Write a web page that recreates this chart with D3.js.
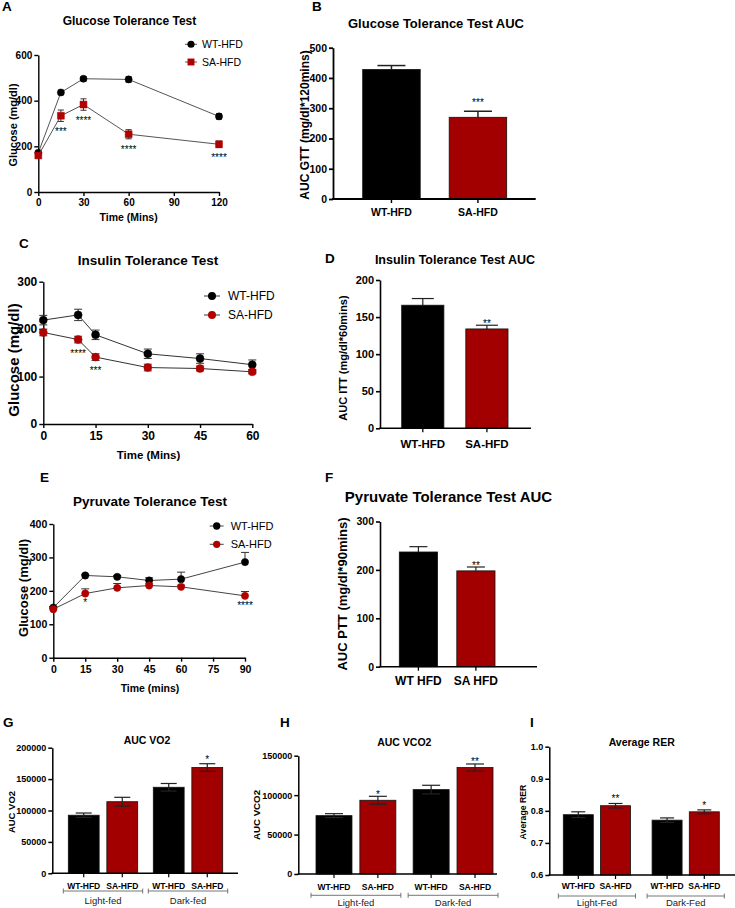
<!DOCTYPE html>
<html><head><meta charset="utf-8">
<script src="https://cdn.jsdelivr.net/npm/d3@7"></script>
<style>body{margin:0;background:#fff} svg{display:block}</style>
</head><body><svg id="fig" width="735" height="908"></svg>
<script>
// ---------------- DATA ----------------
// A: Glucose tolerance test
const gttTime = [0, 15, 30, 60, 120];
const gttWT = [172, 436, 496, 493, 331];
const gttWTErr = [8, 10, 10, 12, 12];
const gttSA = [160, 334, 383, 253, 209];
const gttSAErr = [10, 25, 25, 20, 14];
const gttStars = ["", "***", "****", "****", "****"];
const gttXTicks = [0, 30, 60, 90, 120];
const gttYTicks = [0, 200, 400, 600];
// B: GTT AUC
const gttAucCats = ["WT-HFD", "SA-HFD"];
const gttAuc = [428, 270];
const gttAucErr = [13, 20];
const gttAucStars = ["", "***"];
const gttAucTicks = [0, 100, 200, 300, 400, 500];
// C: Insulin tolerance test
const ittTime = [0, 10, 15, 30, 45, 60];
const ittWT = [219, 230, 188, 148, 138, 125];
const ittWTErr = [10, 12, 10, 10, 10, 10];
const ittSA = [193, 178, 141, 119, 117, 110];
const ittSAErr = [7, 7, 7, 7, 5, 4];
const ittStars = ["", "****", "***", "", "", ""];
const ittXTicks = [0, 15, 30, 45, 60];
const ittYTicks = [0, 100, 200, 300];
// D: ITT AUC
const ittAucCats = ["WT-HFD", "SA-HFD"];
const ittAuc = [166, 134];
const ittAucErr = [9, 5];
const ittAucStars = ["", "**"];
const ittAucTicks = [0, 50, 100, 150, 200];
// E: Pyruvate tolerance test
const pttTime = [0, 15, 30, 45, 60, 90];
const pttWT = [150, 246, 242, 231, 235, 286];
const pttWTErr = [3, 3, 4, 8, 21, 29];
const pttSA = [145, 192, 209, 216, 212, 185];
const pttSAErr = [3, 14, 13, 5, 5, 13];
const pttStars = ["", "*", "", "", "", "****"];
const pttXTicks = [0, 15, 30, 45, 60, 75, 90];
const pttYTicks = [0, 100, 200, 300, 400];
// F: PTT AUC
const pttAucCats = ["WT HFD", "SA HFD"];
const pttAuc = [237, 198];
const pttAucErr = [11, 8];
const pttAucStars = ["", "**"];
const pttAucTicks = [0, 100, 200, 300];
// G-I: metabolic cages
const genotypes = ["WT-HFD", "SA-HFD"];
const feedGroups = ["Light-fed", "Dark-fed"];
const rerGroups = ["Light-Fed", "Dark-Fed"];
const vo2 = [92500, 114000, 137000, 168500];
const vo2Err = [3500, 7000, 6000, 6000];
const vo2Stars = ["", "", "", "*"];
const vo2Ticks = [0, 50000, 100000, 150000, 200000];
const vco2 = [74000, 93500, 107000, 135000];
const vco2Err = [2500, 5000, 5500, 4500];
const vco2Stars = ["", "*", "", "**"];
const vco2Ticks = [0, 50000, 100000, 150000];
const rer = [0.788, 0.816, 0.771, 0.797];
const rerErr = [0.009, 0.007, 0.007, 0.006];
const rerStars = ["", "**", "", "*"];
const rerTicks = [0.6, 0.7, 0.8, 0.9, 1.0];

// ---------------- DRAWING ----------------
const FONT = '"Liberation Sans", Arial, Helvetica, sans-serif';
const RED = "#a20000";
const svg = d3.select("#fig").attr("font-family", FONT);

function styleAxis(sel, fs, sw) {
  sel.attr("font-family", FONT);
  sel.selectAll("path, line").attr("stroke", "#000").attr("stroke-width", sw);
  sel.selectAll("text").attr("font-size", fs).attr("font-weight", "bold").attr("fill", "#000").attr("font-family", FONT);
}
function txt(x, y, s, o = {}) {
  const t = svg.append("text").attr("x", x).attr("y", y).text(s)
    .attr("font-size", o.fs || 10).attr("font-weight", o.bold === false ? "normal" : "bold")
    .attr("text-anchor", o.anchor || "middle").attr("fill", o.fill || "#000");
  if (o.rotate) t.attr("transform", `rotate(-90,${x},${y})`).attr("dominant-baseline", "central");
  return t;
}
function star(x, visualCenter, s, fs) {
  if (!s) return;
  txt(x, visualCenter + fs * 0.58, s, { fs: fs, bold: false, fill: "#000" });
}

function linePanel(c) {
  const x = d3.scaleLinear().domain(c.xDomain).range(c.xRange);
  const y = d3.scaleLinear().domain(c.yDomain).range(c.yRange);
  const g = svg.append("g");
  g.append("g").attr("transform", `translate(0,${c.yRange[0]})`)
    .call(d3.axisBottom(x).tickValues(c.xTicks).tickSize(4).tickSizeOuter(0).tickPadding(c.xPad))
    .call(styleAxis, c.tickFs, 1.4);
  g.append("g").attr("transform", `translate(${c.xRange[0]},0)`)
    .call(d3.axisLeft(y).tickValues(c.yTicks).tickSize(4).tickSizeOuter(0).tickPadding(c.yPad))
    .call(styleAxis, c.tickFs, 1.4);
  c.series.forEach(s => {
    const pts = c.time.map((t, i) => ({ t, v: s.values[i], e: s.err[i] }));
    const eg = g.append("g").attr("stroke", "#333").attr("stroke-width", 1);
    eg.selectAll(".v").data(pts).join("line")
      .attr("x1", d => x(d.t)).attr("x2", d => x(d.t))
      .attr("y1", d => y(d.v + d.e)).attr("y2", d => c.topOnly ? y(d.v) : y(d.v - d.e));
    eg.selectAll(".t").data(pts).join("line")
      .attr("x1", d => x(d.t) - c.cap).attr("x2", d => x(d.t) + c.cap)
      .attr("y1", d => y(d.v + d.e)).attr("y2", d => y(d.v + d.e));
    if (!c.topOnly) eg.selectAll(".b").data(pts).join("line")
      .attr("x1", d => x(d.t) - c.cap).attr("x2", d => x(d.t) + c.cap)
      .attr("y1", d => y(d.v - d.e)).attr("y2", d => y(d.v - d.e));
    g.append("path").datum(pts)
      .attr("d", d3.line().x(d => x(d.t)).y(d => y(d.v)))
      .attr("fill", "none").attr("stroke", c.lineColor).attr("stroke-width", 1);
    const sym = d3.symbol().type(s.shape === "square" ? d3.symbolSquare : d3.symbolCircle).size(s.size);
    g.selectAll(null).data(pts).join("path")
      .attr("transform", d => `translate(${x(d.t)},${y(d.v)})`)
      .attr("d", sym).attr("fill", s.color).attr("stroke", s.color).attr("stroke-width", 0.5);
    if (s.stars) pts.forEach((d, i) => {
      const base = c.starFromErr ? y(d.v - d.e) : y(d.v);
      star(x(d.t), base + c.starGap, s.stars[i], c.starFs);
    });
  });
  // legend
  c.series.forEach((s, i) => {
    const ly = c.legend.y[i];
    g.append("line").attr("x1", c.legend.x - c.legend.half).attr("x2", c.legend.x + c.legend.half)
      .attr("y1", ly).attr("y2", ly).attr("stroke", c.lineColor).attr("stroke-width", 1);
    const sym = d3.symbol().type(s.shape === "square" ? d3.symbolSquare : d3.symbolCircle).size(s.size);
    g.append("path").attr("transform", `translate(${c.legend.x},${ly})`).attr("d", sym).attr("fill", s.color);
    txt(c.legend.textX, ly + c.legend.fs * 0.36, s.name, { fs: c.legend.fs, bold: false, anchor: "start" });
  });
}

function barPanel(c) {
  const y = d3.scaleLinear().domain(c.yDomain).range(c.yRange);
  let bars;
  if (c.groups) {
    const outer = d3.scaleBand().domain(c.groups).range(c.barRange).paddingInner(c.pad).paddingOuter(0);
    const inner = d3.scaleBand().domain(c.cats).range([0, outer.bandwidth()]).paddingInner(c.innerPad).paddingOuter(0);
    bars = [];
    c.groups.forEach((gname, gi) => c.cats.forEach((k, j) => {
      const idx = gi * c.cats.length + j;
      bars.push({ x0: outer(gname) + inner(k), w: inner.bandwidth(), v: c.values[idx], e: c.err[idx],
        s: c.stars[idx], label: k, color: j === 0 ? "#000" : RED });
    }));
    c.groups.forEach(gname => {
      const x0 = outer(gname) - 5, x1 = outer(gname) + outer.bandwidth() + 5, by = c.bracketY;
      const bg = svg.append("g").attr("stroke", "#666").attr("stroke-width", 0.9);
      bg.append("line").attr("x1", x0).attr("x2", x1).attr("y1", by).attr("y2", by);
      bg.append("line").attr("x1", x0).attr("x2", x0).attr("y1", by - 2.5).attr("y2", by + 2.5);
      bg.append("line").attr("x1", x1).attr("x2", x1).attr("y1", by - 2.5).attr("y2", by + 2.5);
      txt((x0 + x1) / 2, c.groupLabelY, gname, { fs: c.groupFs, bold: false, fill: "#222" });
    });
  } else {
    const x = d3.scaleBand().domain(c.cats).range(c.barRange).paddingInner(c.pad).paddingOuter(0);
    bars = c.cats.map((k, i) => ({ x0: x(k), w: x.bandwidth(), v: c.values[i], e: c.err[i], s: c.stars[i],
      label: k, color: i === 0 ? "#000" : RED }));
  }
  const g = svg.append("g");
  const y0 = y(c.yDomain[0]);
  bars.forEach(b => {
    const cx = b.x0 + b.w / 2, top = y(b.v + b.e), bot = y(b.v);
    const eg = g.append("g").attr("stroke", "#222").attr("stroke-width", c.errW);
    eg.append("line").attr("x1", cx).attr("x2", cx).attr("y1", top).attr("y2", bot);
    eg.append("line").attr("x1", cx - c.cap).attr("x2", cx + c.cap).attr("y1", top).attr("y2", top);
  });
  g.selectAll("rect").data(bars).join("rect")
    .attr("x", d => d.x0).attr("width", d => d.w)
    .attr("y", d => y(d.v)).attr("height", d => y0 - y(d.v))
    .attr("fill", d => d.color).attr("stroke", "#111").attr("stroke-width", 0.8);
  if (c.errBoth) bars.forEach(b => {
    const cx = b.x0 + b.w / 2, bot = y(b.v - b.e), top = y(b.v);
    const eg = g.append("g").attr("stroke", "#222").attr("stroke-width", c.errW);
    eg.append("line").attr("x1", cx).attr("x2", cx).attr("y1", top).attr("y2", bot);
    eg.append("line").attr("x1", cx - c.cap).attr("x2", cx + c.cap).attr("y1", bot).attr("y2", bot);
  });
  g.append("g").attr("transform", `translate(${c.axisX0},0)`)
    .call(d3.axisLeft(y).tickValues(c.yTicks).tickSize(4).tickSizeOuter(0).tickPadding(2)
      .tickFormat(c.fmt ? d3.format(c.fmt) : null))
    .call(styleAxis, c.tickFs, c.axisW);
  g.append("line").attr("x1", c.axisX0 - c.axisW / 2).attr("x2", c.axisX1).attr("y1", y0).attr("y2", y0)
    .attr("stroke", "#000").attr("stroke-width", c.axisW);
  g.selectAll(".xt").data(bars).join("line")
    .attr("x1", d => d.x0 + d.w / 2).attr("x2", d => d.x0 + d.w / 2)
    .attr("y1", y0).attr("y2", y0 + 4).attr("stroke", "#000").attr("stroke-width", c.axisW * 0.8);
  bars.forEach(b => txt(b.x0 + b.w / 2, c.labelY, b.label, { fs: c.labelFs }));
  bars.forEach(b => star(b.x0 + b.w / 2, y(b.v + b.e) - c.starGap, b.s, c.starFs));
}

// ---------- Panel letters ----------
[["A", 2, 11], ["B", 312, 11], ["C", 19, 248], ["D", 325, 263], ["E", 40, 482], ["F", 325, 482],
 ["G", 3, 727], ["H", 280, 727], ["I", 530, 727]].forEach(d => txt(d[1], d[2], d[0], { fs: 13.5, anchor: "start" }));

// ---------- A ----------
txt(129.5, 25, "Glucose Tolerance Test", { fs: 12 });
linePanel({
  xDomain: [0, 120], xRange: [38.3, 219], yDomain: [0, 600], yRange: [192, 55],
  xTicks: gttXTicks, yTicks: gttYTicks, tickFs: 10, xPad: 3, yPad: 2, time: gttTime,
  lineColor: "#555", cap: 3, topOnly: false, starFromErr: true, starGap: 8, starFs: 10,
  series: [
    { name: "WT-HFD", values: gttWT, err: gttWTErr, color: "#000", shape: "circle", size: 40 },
    { name: "SA-HFD", values: gttSA, err: gttSAErr, color: "#b00000", shape: "square", size: 48, stars: gttStars }
  ],
  legend: { x: 191, half: 6, y: [44.3, 62], textX: 202, fs: 10.5 }
});
txt(128.6, 221, "Time (Mins)", { fs: 10.5 });
txt(13, 125, "Glucose (mg/dl)", { fs: 11, rotate: true });

// ---------- B ----------
txt(436, 28, "Glucose Tolerance Test  AUC", { fs: 13 });
barPanel({
  cats: gttAucCats, values: gttAuc, err: gttAucErr, stars: gttAucStars,
  yDomain: [0, 500], yRange: [199, 47.7], yTicks: gttAucTicks, barRange: [362.7, 506.7], pad: 0.335,
  axisX0: 333, axisX1: 535.7, axisW: 1.8, tickFs: 10.5, labelFs: 10.5, labelY: 216,
  cap: 14, errW: 1.5, errBoth: false, starGap: 11, starFs: 10
});
txt(305, 125, "AUC GTT (mg/dl*120mins)", { fs: 12, rotate: true });

// ---------- C ----------
txt(148, 265, "Insulin Tolerance Test", { fs: 13.5 });
linePanel({
  xDomain: [0, 60], xRange: [43.3, 252.3], yDomain: [0, 300], yRange: [424, 281.7],
  xTicks: ittXTicks, yTicks: ittYTicks, tickFs: 12, xPad: 3, yPad: 2, time: ittTime,
  lineColor: "#333", cap: 4, topOnly: false, starFromErr: true, starGap: 8, starFs: 10,
  series: [
    { name: "WT-HFD", values: ittWT, err: ittWTErr, color: "#000", shape: "circle", size: 50 },
    { name: "SA-HFD", values: ittSA, err: ittSAErr, color: "#b00000", shape: "circle", size: 50, stars: ittStars }
  ],
  legend: { x: 212, half: 8, y: [296, 315], textX: 228, fs: 12 }
});
txt(148.5, 459, "Time (Mins)", { fs: 11.5 });
txt(13, 360, "Glucose (mg/dl)", { fs: 15, rotate: true });

// ---------- D ----------
txt(455, 264, "Insulin Tolerance Test AUC", { fs: 12.5 });
barPanel({
  cats: ittAucCats, values: ittAuc, err: ittAucErr, stars: ittAucStars,
  yDomain: [0, 200], yRange: [428.3, 280], yTicks: ittAucTicks, barRange: [401.7, 508], pad: 0.342,
  axisX0: 380, axisX1: 531, axisW: 1.6, tickFs: 11, labelFs: 11.5, labelY: 448,
  cap: 11, errW: 1.2, errBoth: false, starGap: 4, starFs: 10
});
txt(343, 358, "AUC ITT (mg/dl*60mins)", { fs: 11, rotate: true });

// ---------- E ----------
txt(150, 506, "Pyruvate Tolerance Test", { fs: 13.5 });
linePanel({
  xDomain: [0, 90], xRange: [53.3, 245], yDomain: [0, 400], yRange: [657.7, 524],
  xTicks: pttXTicks, yTicks: pttYTicks, tickFs: 10.5, xPad: 4, yPad: 2, time: pttTime,
  lineColor: "#444", cap: 4, topOnly: true, starFromErr: false, starGap: 7, starFs: 10,
  series: [
    { name: "WT-HFD", values: pttWT, err: pttWTErr, color: "#000", shape: "circle", size: 42 },
    { name: "SA-HFD", values: pttSA, err: pttSAErr, color: "#b00000", shape: "circle", size: 42, stars: pttStars }
  ],
  legend: { x: 216.7, half: 7, y: [526, 544.3], textX: 230.7, fs: 11 }
});
txt(150, 692, "Time (mins)", { fs: 10.5 });
txt(23, 588, "Glucose (mg/dl)", { fs: 13, rotate: true });

// ---------- F ----------
txt(448.5, 502, "Pyruvate Tolerance Test AUC", { fs: 15 });
barPanel({
  cats: pttAucCats, values: pttAuc, err: pttAucErr, stars: pttAucStars,
  yDomain: [0, 300], yRange: [666.7, 521.5], yTicks: pttAucTicks, barRange: [399.3, 495], pad: 0.336,
  axisX0: 380, axisX1: 537, axisW: 1.6, tickFs: 10.5, labelFs: 12, labelY: 684.5,
  cap: 9, errW: 1.2, errBoth: false, starGap: 4, starFs: 10
});
txt(342, 594, "AUC PTT (mg/dl*90mins)", { fs: 13, rotate: true });

// ---------- G ----------
txt(147, 744, "AUC VO2", { fs: 10.5 });
barPanel({
  groups: feedGroups, cats: genotypes, values: vo2, err: vo2Err, stars: vo2Stars,
  yDomain: [0, 200000], yRange: [873.3, 747.7], yTicks: vo2Ticks, fmt: "d",
  barRange: [68.3, 222.7], pad: 0.1835, innerPad: 0.2,
  axisX0: 52.3, axisX1: 238, axisW: 1.5, tickFs: 9, labelFs: 8.5, labelY: 888.5,
  bracketY: 891, groupLabelY: 904, groupFs: 9.5,
  cap: 8, errW: 1.2, errBoth: true, starGap: 6.5, starFs: 10
});
txt(11, 812, "AUC VO2", { fs: 9.5, rotate: true });

// ---------- H ----------
txt(404.3, 746, "AUC VCO2", { fs: 10.5 });
barPanel({
  groups: feedGroups, cats: genotypes, values: vco2, err: vco2Err, stars: vco2Stars,
  yDomain: [0, 150000], yRange: [874, 755.7], yTicks: vco2Ticks, fmt: "d",
  barRange: [316, 493], pad: 0.178, innerPad: 0.18,
  axisX0: 298.3, axisX1: 497, axisW: 1.5, tickFs: 9, labelFs: 8.5, labelY: 890,
  bracketY: 895.3, groupLabelY: 906, groupFs: 9.5,
  cap: 9, errW: 1.2, errBoth: true, starGap: 4.4, starFs: 10
});
txt(256.7, 815, "AUC VCO2", { fs: 9.7, rotate: true });

// ---------- I ----------
txt(641.7, 746, "Average RER", { fs: 10.5 });
barPanel({
  groups: rerGroups, cats: genotypes, values: rer, err: rerErr, stars: rerStars,
  yDomain: [0.6, 1.0], yRange: [875, 746.7], yTicks: rerTicks, fmt: ".1f",
  barRange: [563.3, 719.3], pad: 0.243, innerPad: 0.194,
  axisX0: 549.3, axisX1: 735, axisW: 1.5, tickFs: 9, labelFs: 8.5, labelY: 888.5,
  bracketY: 896, groupLabelY: 906, groupFs: 9.5,
  cap: 7, errW: 1.2, errBoth: true, starGap: 7, starFs: 10
});
txt(523.3, 812, "Average RER", { fs: 8.7, rotate: true });
</script></body></html>
